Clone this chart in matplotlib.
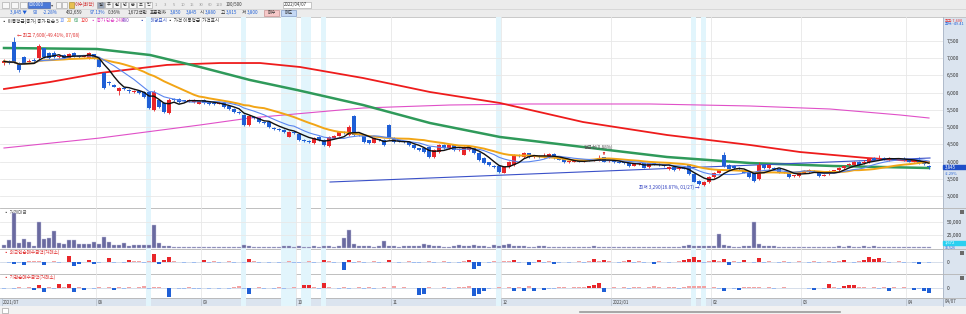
import numpy as np
import pandas as pd
import matplotlib
matplotlib.use('Agg')
import matplotlib.pyplot as plt
from matplotlib.patches import Rectangle
import matplotlib.transforms as mtrans

plt.rcParams['font.family'] = ['Noto Sans CJK KR', 'DejaVu Sans']

#===================== DATA ==========================
month_labels = ['2021/07', '08', '09', '10', '11', '12', '2022/01', '02', '03', '04']
month_start = [0, 19, 40, 59, 78, 100, 122, 142, 160, 181]

opens = [
    6850, 6900, 7470, 6850, 7020, 6870, 6950, 6990, 7290, 7140, 7140, 7030, 7080, 7000, 7150, 7050, 7040, 6990, 7110,
    6970, 6560, 6280, 6230, 6050, 6120, 6070, 6010, 6040, 6020, 6020, 5490, 5780, 5700, 5400, 5790, 5810, 5760, 5750, 5720, 5680,
    5780, 5730, 5690, 5680, 5690, 5600, 5520, 5440, 5350, 5060, 5280, 5250, 5150, 5150, 4980, 4950, 4920, 4720, 4850,
    4790, 4630, 4600, 4540, 4710, 4630, 4450, 4680, 4750, 4860, 4770, 5320, 4800, 4770, 4620, 4550, 4640, 4630, 5060,
    4690, 4610, 4590, 4560, 4480, 4390, 4390, 4420, 4140, 4280, 4480, 4400, 4480, 4350, 4200, 4340, 4400, 4250, 4110, 3980, 3880, 3880,
    3680, 3850, 3900, 4190, 4140, 4240, 4150, 4160, 4130, 4120, 4230, 4100, 4100, 3990, 4000, 4030, 4020, 4040, 4030, 4030, 4130, 4010,
    4030, 3990, 3970, 3960, 3890, 3930, 3960, 3840, 3950, 3930, 3900, 3780, 3860, 3780, 3820, 3920, 3650, 3450, 3320, 3400,
    3560, 3680, 4190, 3900, 3880, 3830, 3760, 3700, 3670, 3500, 3900, 3820, 3830, 3780, 3690, 3690, 3580, 3590,
    3680, 3700, 3740, 3680, 3600, 3640, 3730, 3760, 3820, 3900, 3900, 3990, 3950, 3990, 4100, 4070, 4100, 4050, 4100, 4060, 4080,
    4040, 4000, 4050, 3960, 3880]
closes = [
    6900, 6860, 6870, 6650, 6860, 6920, 6900, 7340, 7040, 7000, 7030, 7050, 7000, 7120, 7060, 7040, 7060, 7140, 6990,
    6750, 6130, 6270, 6170, 6130, 6090, 6040, 6050, 5980, 5870, 5550, 6020, 5580, 5440, 5780, 5780, 5730, 5750, 5780, 5790, 5760,
    5700, 5660, 5670, 5690, 5580, 5530, 5440, 5410, 5060, 5320, 5250, 5150, 5130, 4990, 4950, 4920, 4870, 4870, 4830,
    4630, 4600, 4570, 4690, 4630, 4480, 4710, 4740, 4850, 4830, 5000, 4770, 4770, 4570, 4540, 4690, 4620, 4480, 4690,
    4570, 4590, 4560, 4480, 4400, 4340, 4270, 4140, 4340, 4480, 4400, 4480, 4340, 4360, 4420, 4450, 4250, 4050, 3960, 3900, 3850, 3700,
    3850, 3990, 4190, 4160, 4240, 4140, 4160, 4130, 4170, 4220, 4110, 4060, 3980, 4000, 4030, 4000, 4040, 4030, 4060, 4120, 4000, 4030,
    3990, 3970, 3960, 3880, 3930, 3940, 3830, 3950, 3930, 3900, 3880, 3860, 3760, 3800, 3800, 3650, 3420, 3360, 3410, 3560,
    3680, 3760, 3880, 3780, 3820, 3790, 3680, 3560, 3440, 3900, 3830, 3900, 3790, 3680, 3700, 3560, 3600, 3670,
    3720, 3750, 3710, 3580, 3620, 3730, 3740, 3820, 3880, 3920, 3990, 3910, 4000, 4100, 4060, 4110, 4080, 4100, 4080, 4080, 4050,
    4000, 4050, 3950, 3935, 3845]
highs = [
    6960, 6950, 7600, 6880, 7050, 6960, 6990, 7400, 7300, 7180, 7200, 7080, 7100, 7150, 7180, 7080, 7090, 7160, 7120,
    6990, 6580, 6320, 6250, 6160, 6160, 6100, 6080, 6060, 6040, 6050, 6080, 5800, 5720, 5830, 5830, 5840, 5790, 5800, 5810, 5780,
    5800, 5760, 5720, 5720, 5700, 5620, 5540, 5460, 5370, 5340, 5320, 5270, 5170, 5180, 5000, 4980, 4940, 4890, 4880,
    4800, 4650, 4630, 4710, 4730, 4650, 4740, 4760, 4870, 4880, 5050, 5350, 4830, 4790, 4640, 4710, 4660, 4650, 5100,
    4710, 4640, 4610, 4580, 4500, 4410, 4400, 4440, 4360, 4510, 4520, 4500, 4500, 4390, 4440, 4470, 4420, 4270, 4130, 4000, 3900, 3900,
    3870, 4010, 4220, 4230, 4290, 4260, 4200, 4190, 4240, 4250, 4240, 4120, 4120, 4030, 4060, 4050, 4070, 4060, 4090, 4200, 4150, 4060,
    4060, 4010, 4000, 3970, 3950, 3970, 3970, 3970, 3970, 3950, 3920, 3880, 3880, 3830, 3850, 3940, 3670, 3470, 3440, 3580,
    3700, 3790, 4270, 3930, 3900, 3860, 3780, 3720, 3690, 4000, 3940, 3930, 3860, 3800, 3730, 3710, 3630, 3700,
    3750, 3780, 3770, 3700, 3650, 3750, 3770, 3840, 3900, 3950, 4020, 4010, 4040, 4120, 4140, 4200, 4130, 4130, 4120, 4110, 4150,
    4070, 4080, 4130, 3980, 3915]
lows = [
    6800, 6820, 6850, 6600, 6820, 6850, 6870, 6950, 7000, 6980, 7000, 6990, 6970, 6980, 7040, 7010, 7020, 6980, 6970,
    6730, 6100, 6230, 6150, 5930, 6060, 6000, 5990, 5960, 5850, 5520, 5460, 5560, 5400, 5390, 5740, 5710, 5720, 5730, 5700, 5660,
    5680, 5640, 5650, 5660, 5560, 5500, 5420, 5380, 5040, 5040, 5220, 5130, 5100, 4970, 4930, 4890, 4840, 4700, 4800,
    4610, 4570, 4540, 4520, 4610, 4460, 4420, 4660, 4730, 4810, 4750, 4750, 4740, 4550, 4520, 4530, 4600, 4460, 4670,
    4550, 4570, 4540, 4460, 4380, 4320, 4250, 4120, 4110, 4260, 4380, 4380, 4320, 4320, 4180, 4320, 4230, 4030, 3940, 3880, 3830, 3680,
    3660, 3830, 3880, 4130, 4120, 4120, 4120, 4110, 4110, 4100, 4090, 4040, 3960, 3970, 3980, 3980, 4000, 4010, 4010, 4010, 3980, 3990,
    3970, 3950, 3930, 3860, 3870, 3900, 3810, 3820, 3910, 3880, 3860, 3760, 3740, 3760, 3780, 3630, 3400, 3330, 3290, 3380,
    3540, 3660, 3860, 3760, 3800, 3770, 3660, 3540, 3420, 3480, 3800, 3800, 3770, 3660, 3670, 3540, 3560, 3570,
    3660, 3680, 3690, 3560, 3580, 3620, 3700, 3740, 3800, 3870, 3880, 3890, 3930, 3970, 4040, 4050, 4060, 4030, 4060, 4040, 4030,
    3980, 3980, 3940, 3900, 3800]

# trading value (million won)
trade_value = [
    6000, 15600, 66000, 10500, 17000, 12400, 4300, 49000, 17000, 20000, 33000, 10500, 7500, 15600, 15600, 8000, 8000, 8000, 11000,
    7500, 20600, 12400, 6000, 6000, 9300, 4300, 6700, 6700, 6700, 6700, 43700, 9300, 4300, 4800, 3000, 3000, 2500, 2500, 2500, 3000,
    3000, 2500, 2500, 2500, 2500, 3000, 2500, 3000, 6000, 4000, 3000, 2500, 2500, 3000, 2500, 2500, 3500, 4000, 3000,
    4500, 3000, 2500, 3500, 3000, 3500, 5000, 3000, 4000, 19000, 34000, 8000, 5000, 4000, 3500, 3000, 4000, 14000, 5000,
    3500, 3000, 3500, 4000, 3500, 4500, 8000, 6000, 5000, 3500, 3000, 3000, 3500, 6000, 5000, 4000, 5500, 4500, 3500, 3000, 6000, 5000,
    7000, 9000, 4000, 4500, 3500, 3000, 3000, 3500, 3500, 3000, 2500, 3000, 2500, 2500, 2500, 2500, 2500, 3000, 4000, 3000, 2500, 2500,
    2500, 2500, 3000, 2500, 2500, 3000, 3000, 2500, 2500, 2500, 3000, 3000, 2500, 2500, 5000, 6000, 5000, 5000, 4500, 4000,
    4000, 27000, 6000, 4000, 3000, 3000, 3500, 4500, 50000, 8000, 5000, 4000, 3500, 3000, 3000, 2500, 2500, 3000,
    3000, 2500, 3000, 2500, 3000, 2500, 3000, 3500, 3000, 4000, 3000, 3000, 4000, 3000, 4000, 3000, 3000, 2500, 3000, 2500, 3000,
    2500, 3000, 2500, 3000, 1672]

foreign_net = [
    0.5, -1, -2, -0.5, -3, 1.3, 1.7, 1.3, -3, 0.5, 1, -1, 0.5, 6.7, -4, -2, 0.5, 2.3, -2,
    -0.5, 0.5, 4, -1, 0.5, -0.5, 2.3, 1.3, 1.3, -1, 1.3, 8.3, -2, 2.3, 5, 1, 0.5, -0.5, 0.5, -0.5, 0.5,
    2, -1, 1, -0.5, 0.5, 1, -0.5, 0.5, -0.5, 3.3, 1, -1, 0.5, -0.5, 0.5, -1, 0.5, 1, -0.5,
    -1, 0.5, 1, -0.5, 0.5, 2, 1, -1, 0.5, -8, 2, -1, 1, -0.5, 0.5, 1, -1, 0.5, 2,
    0.5, -1, 0.5, 1, -0.5, -1, 0.5, 1, -0.5, 0.5, 1, -0.5, 0.5, -1, 1, 2, -7, -4, 0.5, -0.5, 1, 0.5,
    1, 1, 2, -1, 0.5, -3, -1, 2, -0.5, 1, -2, -1, 0.5, -0.5, 0.5, 1, -0.5, 1, 3, 1, 2, 1,
    0.5, -0.5, 1, 2, -0.5, 1, -1, 0.5, -2, 1, 0.5, -0.5, 0.5, 1, 2, 3, 5, 2, -1, 1,
    2, 1, 3, -3, 1, -1, 2, 0.5, -1, 4, -1, 1, 0.5, -0.5, 1, -0.5, 0.5, 1,
    0.5, -0.5, 1, -1, 0.5, 1, -0.5, 1, 2, 0.5, -0.5, 1, 2, 5, 3, 4, 1, -0.5, 0.5, 1, -1,
    0.5, -1, -2, 0.5, -1]
inst_net = [
    -1, -0.5, -1.7, 0.5, -0.5, 0.5, -2, 2.7, -4, 0.5, -1.5, 3.3, 0.5, 3.7, -4, 0.5, -2, -0.5, -1,
    1, -0.5, 0.5, -2, 0.5, -1.5, 0.5, -0.5, 0.5, 1.7, -1, 0.5, 0.5, -0.5, -9, -0.5, -1.5, -1.5, 0.5, -1.5, -1,
    -0.5, -1, -0.5, -1, -0.5, -1, 0.5, 1.7, -1, -6, -0.5, 0.5, -1, -0.5, -1, 0.5, -1, -0.5, 0.5,
    -0.5, 2.3, 2.3, 0.5, -1, 5, 0.5, -0.5, -1, 0.5, -1, -0.5, 0.5, -1, 0.5, -1, -0.5, 0.5, -0.5,
    1.5, -0.5, 0.5, -0.5, -0.5, -7.5, -6, 0.5, -0.5, -0.5, 0.5, -1, -0.5, 0.5, 1, 1.5, -8, -6, -3, -1, -0.5, 0.5,
    -0.5, 0.5, -3, 0.5, -3, 1.5, -3.5, -0.5, -2, -1.5, -1, 0.5, 0.5, -0.5, 0.5, 0.5, 1, 2, 3, 4.5, -4.5, -0.5,
    0.5, -0.5, 0.5, -1, 0.5, 1, -0.5, 1, 1.5, 1, -0.5, 0.5, 0.5, -1, 0.5, 1.5, 1.5, 1.5, 1.5, -0.5,
    0.5, -1, -3, -0.5, -1, -2, 1, 0.5, 1, 0.5, -0.5, 0.5, -1, -0.5, 0.5, -0.5, -0.5, -0.5,
    -0.5, -1, -2, -0.5, -1, 4, 0.5, -1, 2, 2.5, 3, 1, 0.5, -0.5, 0.5, -1, 0.5, -3, 1, -0.5, 0.5,
    -0.5, -2, -1, -3, -5]

# long moving averages (60/120/240) at a few days
ma60_days = [0, 18.6, 29.2, 39.2, 49.2, 58.6, 71.8, 85.2, 99.2, 115.8, 132.6, 149.2, 165.8, 185]
ma60_vals = [7286, 7257, 7084, 6737, 6361, 6072, 5639, 5118, 4714, 4425, 4136, 3962, 3876, 3818]
ma120_days = [0, 9.2, 19.2, 32.6, 43.2, 51.2, 59.2, 71.8, 85.2, 99.2, 115.8, 132.6, 149.2, 159.2, 172.6, 185]
ma120_vals = [6101, 6303, 6563, 6797, 6852, 6852, 6737, 6419, 6014, 5696, 5147, 4772, 4483, 4280, 4107, 3991]
ma240_days = [0, 19.2, 39.2, 49.2, 71.8, 89.2, 105.2, 129.2, 149.2, 165.2, 179.2, 185]
ma240_vals = [4396, 4685, 5061, 5263, 5552, 5639, 5668, 5668, 5610, 5523, 5350, 5263]

trend_days = [65.2, 185.2]
trend_prices = [3413, 4107]

highlight_days = [29, 48, 56, 57, 58, 60, 61, 64, 99, 138, 140]
#===================== END DATA ==========================

W, H = 966, 314
RED, BLUE = '#e8262a', '#1f5fd6'
LRED, LBLUE = '#f4a2a2', '#9dbcf0'
BAND = '#e2f5fc'
GRID = '#e8e8e8'
AXBG = '#dbe4ef'

n = len(closes)
x = np.arange(n)
o, c, h, l = map(np.array, (opens, closes, highs, lows))

fig = plt.figure(figsize=(W / 100, H / 100), dpi=100)
fig.patch.set_facecolor('white')

bg = fig.add_axes([0, 0, 1, 1], zorder=0)
bg.set_xlim(0, W)
bg.set_ylim(H, 0)
bg.axis('off')


def px_axes(x0, y0, x1, y1):
    a = fig.add_axes([x0 / W, 1 - y1 / H, (x1 - x0) / W, (y1 - y0) / H], zorder=2)
    a.set_facecolor('none')
    for s in a.spines.values():
        s.set_visible(False)
    a.set_xlim(-0.8, 187.8)
    a.set_xticks([])
    a.tick_params(axis='y', length=0, pad=3, labelsize=3.6, labelcolor='#333333')
    a.yaxis.tick_right()
    for d in highlight_days:
        a.axvspan(d - 0.5, d + 0.5, color=BAND, lw=0, zorder=0)
    for ms in month_start[1:]:
        a.axvline(ms - 0.5, color=GRID, lw=0.6, zorder=0.5)
    return a


# ---- frame pieces (toolbar, right axis column, date strip)
bg.add_patch(Rectangle((0, 0), W, 17, color='#ececec', lw=0))
bg.plot([0, W], [8.5, 8.5], color='#d0d0d0', lw=0.5)
bg.plot([0, W], [17, 17], color='#c0c0c0', lw=0.6)
bg.add_patch(Rectangle((943, 17), 23, 289, color=AXBG, lw=0))
bg.plot([943, 943], [17, 306], color='#a8b4c4', lw=0.6)
bg.add_patch(Rectangle((0, 298), 943, 8, color=AXBG, lw=0))
bg.add_patch(Rectangle((0, 306), W, 8, color='#f2f2f2', lw=0))
bg.plot([580, 840], [311.5, 311.5], color='#9a9a9a', lw=1.2)
for yy in (208, 249, 274, 298):
    bg.plot([0, W], [yy, yy], color='#b4b4b4', lw=0.6)
for yy in (210, 251, 276):
    bg.add_patch(Rectangle((960, yy), 4, 4, color='#6a6a6a', lw=0))

# toolbar row 1
for xx in (2, 11, 20):
    bg.add_patch(Rectangle((xx, 1.5), 7, 6, fc='#f7f7f7', ec='#a0a0a0', lw=0.4))
bg.add_patch(Rectangle((28, 1.5), 22, 6, fc='#4a78d8', ec='#3050a0', lw=0.4))
bg.text(29, 4.5, '000000', fontsize=3.2, color='white', va='center')
bg.text(51, 4.5, '▾', fontsize=3.2, color='#555', va='center')
for xx in (56, 62):
    bg.add_patch(Rectangle((xx, 1.5), 5, 6, fc='#f7f7f7', ec='#a0a0a0', lw=0.4))
bg.add_patch(Rectangle((69, 1.5), 5, 6, fc='#e8c050', ec='#a08020', lw=0.4))
bg.text(75, 4.5, '이수(화학)', fontsize=3.3, color='#d02020', va='center')
for k, t in enumerate(['일', '주', '월', '년', '분', '초', '틱']):
    bg.add_patch(Rectangle((97 + 8 * k, 1.5), 7, 6, fc='#9aa6b8' if k == 0 else '#f7f7f7', ec='#a0a0a0', lw=0.4))
    bg.text(100.5 + 8 * k, 4.5, t, fontsize=3, color='#333', ha='center', va='center')
for k, t in enumerate(['1', '3', '5', '10', '15', '30', '60', '120']):
    bg.text(156 + 9 * k, 4.5, t, fontsize=3, color='#999', ha='center', va='center')
bg.text(226, 4.5, '100/500', fontsize=3.2, color='#333', va='center')
bg.add_patch(Rectangle((283, 1.5), 28, 6, fc='white', ec='#a0a0a0', lw=0.4))
bg.text(284, 4.5, '2022/04/07', fontsize=3.2, color='#333', va='center')

# toolbar row 2
row2 = [(10, '3,845 ▼', BLUE), (33, '90', BLUE), (43, '-2.28%', BLUE), (66, '432,659', '#333'),
        (90, '97.13%', BLUE), (108, '0.36%', '#333'), (128, '1,672백만', '#333'), (150, '표준편차', '#333'),
        (170, '3,850', BLUE), (186, '3,845', BLUE), (200, '시', '#333'), (205, '3,880', BLUE),
        (221, '고', '#333'), (226, '3,915', BLUE), (242, '저', '#333'), (247, '3,800', BLUE)]
for xx, t, col in row2:
    bg.text(xx, 12.8, t, fontsize=3.3, color=col, va='center')
bg.add_patch(Rectangle((264, 9.8), 15, 6, fc='#f6c8c8', ec='#c08080', lw=0.4))
bg.text(271.5, 12.8, '매수', fontsize=3.2, color='#333', ha='center', va='center')
bg.add_patch(Rectangle((281, 9.8), 15, 6, fc='#c4d8f4', ec='#7090c0', lw=0.4))
bg.text(288.5, 12.8, '매도', fontsize=3.2, color='#333', ha='center', va='center')

# ---- price panel
ax = px_axes(0, 17, 943, 208)
ax.set_ylim(2662, 8182)
ax.set_yticks(range(3000, 8000, 500))
ax.set_yticklabels([f'{v:,}' for v in range(3000, 8000, 500)])
for v in range(3000, 8000, 500):
    ax.axhline(v, color=GRID, lw=0.6, zorder=0.5)

up = c >= o
col = np.where(up, RED, BLUE)
ax.vlines(x, l, h, colors=col, lw=0.6, zorder=3)
ax.bar(x, np.maximum(np.abs(c - o), 25), bottom=np.minimum(o, c), width=0.72, color=col, lw=0, zorder=4)

cs = pd.Series(c)
ax.plot(ma240_days, ma240_vals, color='#e050c8', lw=0.8, zorder=2)
ax.plot(ma120_days, ma120_vals, color='#ee1c1c', lw=1.3, zorder=2)
ax.plot(ma60_days, ma60_vals, color='#2f9a5a', lw=1.8, zorder=2)
ax.plot(x, cs.rolling(20, min_periods=1).mean(), color='#f2a516', lw=1.4, zorder=5)
ax.plot(x, cs.rolling(10, min_periods=1).mean(), color='#5a86ef', lw=0.8, zorder=5)
ax.plot(x, cs.rolling(5, min_periods=1).mean(), color='#111111', lw=1.0, zorder=6)
ax.plot(trend_days, trend_prices, color='#3a50c8', lw=0.8, zorder=2)

hi_i = int(np.argmax(h))
lo_i = int(np.argmin(l))
ax.text(hi_i + 0.6, h[hi_i] + 40, '← 최고 7,600(-49.41%, 07/08)', fontsize=3.4, color='#e03030', va='center', zorder=7)
ax.text(lo_i - 0.8, l[lo_i] - 40, '최저 3,290(16.87%, 01/27) →', fontsize=3.4, color='#3040c0', va='center', ha='right', zorder=7)
ax.text(119, 4430, '평균선(0.88%)', fontsize=3.4, color='#555555', ha='center', va='center', zorder=7)
ax.annotate('', xy=(120, c[120] + 120), xytext=(120, c[120] + 300),
            arrowprops=dict(arrowstyle='-|>', color='#e03030', lw=0.5, mutation_scale=3), zorder=7)

legend = [(2, '▪ 이동평균(종가) 종가 단순 5', '#333'), (60, '10', '#5a86ef'), (67, '20', '#f2a516'),
          (74, '60', '#2f9a5a'), (81, '120', '#ee1c1c'), (91, '▪ 종가 단순 240', '#e050c8'),
          (122, '480', '#8040c0'), (140, '▪ 거래량표시', '#3050c0'), (168, '▪ 가격 이동평균  가격표시', '#333')]
for xx, t, cc in legend:
    bg.text(xx, 21, t, fontsize=3.3, color=cc, va='center', zorder=3)

# right column: current price box
trans = mtrans.blended_transform_factory(fig.transFigure, ax.transData)
ax.add_patch(Rectangle((943 / W, c[-1] - 55), 23 / W, 110, transform=trans, color='#1f4fc8', clip_on=False, zorder=8))
ax.text(945 / W, c[-1], f'{c[-1]:,}', transform=trans, fontsize=3.2, color='white', va='center', zorder=9, clip_on=False)
ax.text(945 / W, c[-1] - 200, '-2.29%', transform=trans, fontsize=2.8, color=BLUE, va='center', zorder=9, clip_on=False)
bg.text(945, 20.5, '최고:7,600', fontsize=2.8, color='#e03030', va='center')
bg.text(945, 24, '최저:-49.41', fontsize=2.8, color=BLUE, va='center')

# ---- trading value panel
av = px_axes(0, 208, 943, 249)
av.set_ylim(-1316, 75764)
av.set_yticks([25000, 50000])
av.set_yticklabels(['25,000', '50,000'])
for v in (25000, 50000):
    av.axhline(v, color=GRID, lw=0.6, zorder=0.5)
av.bar(x, trade_value, width=0.8, color='#6a6aa0', ec='#c4c4de', lw=0.3, zorder=3)
tv = mtrans.blended_transform_factory(fig.transFigure, av.transData)
av.add_patch(Rectangle((943 / W, 6200), 23 / W, 8400, transform=tv, color='#2ad0f0', clip_on=False, zorder=8))
av.text(945 / W, 10400, f'{trade_value[-1]:,}', transform=tv, fontsize=3.0, color='white', va='center', zorder=9, clip_on=False)
av.text(945 / W, 1500, '16,526', transform=tv, fontsize=2.6, color=BLUE, va='center', zorder=9, clip_on=False)
bg.text(4, 212, '▪ 거래대금', fontsize=3.3, color='#555', va='center', zorder=3)


def net_panel(y0, y1, vals, lo, hi, label):
    a = px_axes(0, y0, 943, y1)
    a.set_ylim(lo, hi)
    a.set_yticks([0])
    a.set_yticklabels(['0'])
    a.axhline(0, color='#cfd8e6', lw=0.6, zorder=0.5)
    v = np.array(vals)
    cols = [RED if t >= 2 else LRED if t > 0 else BLUE if t <= -2 else LBLUE for t in v]
    a.bar(x, v, width=0.8, color=cols, lw=0, zorder=3)
    bg.text(4, y0 + 3.5, label, fontsize=3.3, color='#e03030', va='center', zorder=3)
    return a


net_panel(249, 274, foreign_net, -11.7, 13.3, '▪ 외국인순매수금액(거래소)')
net_panel(274, 298, inst_net, -10.3, 13.7, '▪ 기관순매수금액(거래소)')

# ---- date strip
ad = px_axes(0, 298, 943, 306)
ad.set_ylim(0, 1)
ad.set_yticks([])
for ms, lab in zip(month_start, month_labels):
    ad.axvline(ms - 0.5, color='#b0bccc', lw=0.5)
    ad.text(ms - 0.2, 0.45, lab, fontsize=3.2, color='#444', va='center')
bg.text(945, 302, '04/07', fontsize=3.2, color='#444', va='center')
bg.add_patch(Rectangle((2, 308), 6, 5, fc='white', ec='#909090', lw=0.4))

fig.savefig('out.png', dpi=100, facecolor='white')
